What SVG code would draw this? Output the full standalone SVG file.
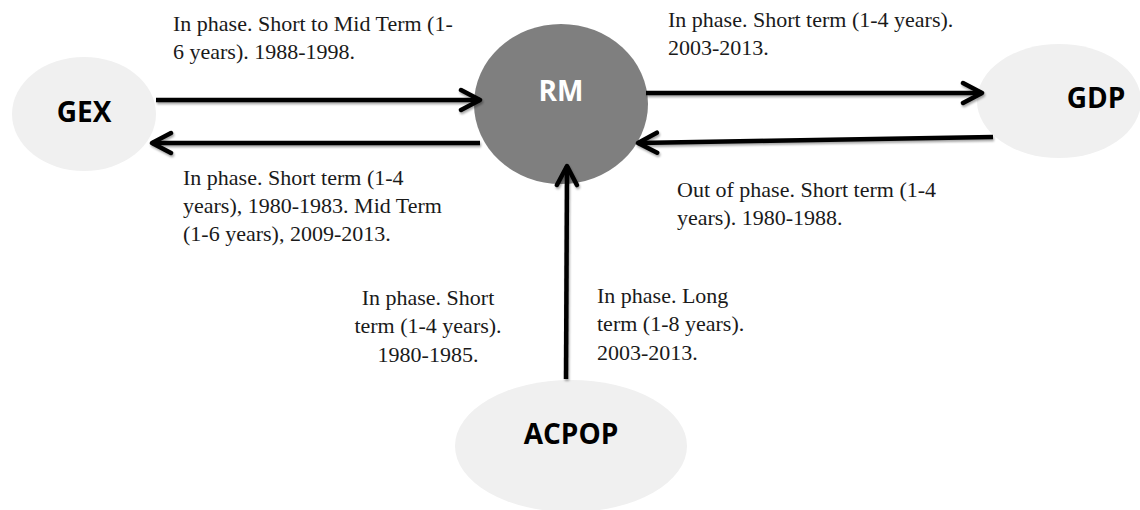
<svg xmlns="http://www.w3.org/2000/svg" width="1140" height="510" viewBox="0 0 1140 510">
<defs>
<marker id="arr" viewBox="0 0 26 26" refX="22" refY="13" markerWidth="26" markerHeight="26" markerUnits="userSpaceOnUse" orient="auto">
<path d="M3,3 L22,13 L3,23" fill="none" stroke="#000" stroke-width="4.5" stroke-linecap="round" stroke-linejoin="round"/>
</marker>
<filter id="sh" x="-5%" y="-50%" width="110%" height="200%">
<feDropShadow dx="1" dy="2" stdDeviation="1.2" flood-color="#000" flood-opacity="0.35"/>
</filter>
</defs>
<style>
.node-light{fill:#f0f0f0}
.node-dark{fill:#7f7f7f}
.nlabel{font-family:"Open Sans","Liberation Sans",sans-serif;font-weight:700;font-size:28px;text-anchor:middle}
.lbl{font-family:"Liberation Serif","Times New Roman",serif;font-size:22px;fill:#1a1a1a}
.conn{stroke:#000;stroke-width:4.5;fill:none;marker-end:url(#arr)}
</style>
<rect width="1140" height="510" fill="#fff"/>
<g id="GEX">
<ellipse class="node-light" cx="84" cy="114" rx="72" ry="57"/>
<text class="nlabel" x="84" y="122" fill="#000">GEX</text>
</g>
<g id="RM">
<ellipse class="node-dark" cx="561" cy="104" rx="87" ry="80"/>
<text class="nlabel" x="561" y="101" fill="#fff">RM</text>
</g>
<g id="GDP">
<ellipse class="node-light" cx="1059" cy="101" rx="82" ry="57"/>
<text class="nlabel" x="1096" y="108" fill="#000">GDP</text>
</g>
<g id="ACPOP">
<ellipse class="node-light" cx="571" cy="446" rx="116" ry="66"/>
<text class="nlabel" x="571" y="444" fill="#000">ACPOP</text>
</g>
<g id="connectors" filter="url(#sh)">
<line class="conn" x1="156" y1="100" x2="480" y2="100"/>
<line class="conn" x1="480" y1="143" x2="152" y2="143"/>
<line class="conn" x1="646" y1="93" x2="982" y2="93"/>
<line class="conn" x1="993" y1="137" x2="638" y2="143"/>
<line class="conn" x1="566" y1="379" x2="567" y2="166"/>
</g>
<g id="labels">
<text class="lbl" x="173" y="31">In phase. Short to Mid Term (1-</text>
<text class="lbl" x="173" y="59">6 years). 1988-1998.</text>
<text class="lbl" x="668" y="27">In phase. Short term (1-4 years).</text>
<text class="lbl" x="668" y="55">2003-2013.</text>
<text class="lbl" x="183" y="185">In phase. Short term (1-4</text>
<text class="lbl" x="183" y="213">years), 1980-1983. Mid Term</text>
<text class="lbl" x="183" y="241">(1-6 years), 2009-2013.</text>
<text class="lbl" x="677" y="197">Out of phase. Short term (1-4</text>
<text class="lbl" x="677" y="225">years). 1980-1988.</text>
<text class="lbl" x="428" y="305" text-anchor="middle">In phase. Short</text>
<text class="lbl" x="428" y="333" text-anchor="middle">term (1-4 years).</text>
<text class="lbl" x="428" y="362" text-anchor="middle">1980-1985.</text>
<text class="lbl" x="597" y="303">In phase. Long</text>
<text class="lbl" x="597" y="331">term (1-8 years).</text>
<text class="lbl" x="597" y="360">2003-2013.</text>
</g>
</svg>
